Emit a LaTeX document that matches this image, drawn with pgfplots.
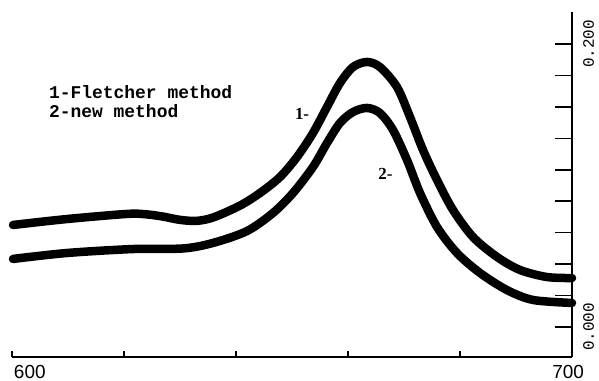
\documentclass[border=0pt]{standalone}
\usepackage{fontspec}
\setmainfont{Liberation Sans}
\newfontfamily\monof{Liberation Mono}
\newfontfamily\seriff{Liberation Serif}
\usepackage{pgfplots}
\pgfplotsset{compat=1.18}
\usetikzlibrary{calc}

\pgfplotstableread{
x y
600.18 0.0721
609.82 0.0763
620.54 0.0799
624.00 0.0796
627.00 0.0780
630.00 0.0757
633.00 0.0750
636.00 0.0775
640.71 0.0858
644.29 0.0947
647.86 0.1060
650.89 0.1201
653.75 0.1371
656.25 0.1555
658.57 0.1724
660.89 0.1837
663.39 0.1873
665.71 0.1837
668.75 0.1696
671.07 0.1484
673.39 0.1251
675.89 0.1039
678.75 0.0827
682.32 0.0636
686.61 0.0495
690.71 0.0403
695.54 0.0353
700.00 0.0346
}\curveone

\pgfplotstableread{
x y
600.18 0.0481
609.82 0.0523
621.61 0.0551
630.54 0.0555
635.89 0.0594
641.96 0.0678
646.61 0.0806
650.18 0.0947
653.75 0.1131
656.25 0.1300
658.57 0.1442
660.89 0.1519
663.39 0.1548
665.71 0.1512
668.04 0.1392
670.54 0.1180
672.86 0.0947
675.89 0.0707
679.46 0.0523
683.57 0.0382
688.39 0.0261
693.04 0.0191
700.00 0.0170
}\curvetwo

\begin{document}
\begin{tikzpicture}
\begin{axis}[
  scale only axis, width=560bp, height=345bp,
  xmin=600, xmax=700, ymin=-0.0212, ymax=0.2226,
  axis x line*=bottom, axis y line=none,
  axis line style={-, line width=1.8bp},
  xtick={600,620,640,660,680,700},
  xticklabels={{\makebox[0pt][l]{\hspace{2bp}600}},,,,,{\makebox[0pt][r]{700\hspace{-12bp}}}},
  tick align=inside, major tick length=6bp,
  tick style={line width=1.6bp, black},
  xticklabel style={font=\fontsize{19}{19}\selectfont, inner sep=0pt, yshift=-8bp},
  clip=false,
]
\addplot[black, line width=8.5bp, line join=round, line cap=round, smooth, tension=0.5] table[x=x,y=y] {\curveone};
\addplot[black, line width=8.5bp, line join=round, line cap=round, smooth, tension=0.5] table[x=x,y=y] {\curvetwo};
\node[anchor=base west, inner sep=0pt, font=\monof\bfseries\fontsize{18}{20}\selectfont] at (axis cs:606.6,0.1618) {1-Fletcher method};
\node[anchor=base west, inner sep=0pt, font=\monof\bfseries\fontsize{18}{20}\selectfont] at (axis cs:606.6,0.1477) {2-new method};
\node[anchor=base west, inner sep=0pt, font=\seriff\bfseries\fontsize{17}{17}\selectfont] at (axis cs:650.5,0.1463) {1-};
\node[anchor=base west, inner sep=0pt, font=\seriff\bfseries\fontsize{17}{17}\selectfont] at (axis cs:665.4,0.1039) {2-};
\end{axis}
\begin{axis}[
  scale only axis, width=560bp, height=345bp,
  xmin=600, xmax=700, ymin=-0.0212, ymax=0.2226,
  axis y line*=right, axis x line=none,
  axis line style={-, line width=2.8bp},
  ytick={0,0.02222,0.04444,0.06667,0.08889,0.11111,0.13333,0.15556,0.17778,0.2},
  yticklabels={0.000,,,,,,,,,0.200},
  tick align=inside, major tick length=17bp,
  tick style={line width=1.6bp, black},
  yticklabel style={font=\monof\fontsize{16}{16}\selectfont, inner sep=0pt, xshift=11bp, anchor=north, rotate=90},
]
\addplot[draw=none] coordinates {(600,0) (700,0.2)};
\end{axis}
\pgfresetboundingbox
\path[use as bounding box] ($(current axis.south west)+(-12bp,-24bp)$) rectangle ($(current axis.north east)+(27bp,12bp)$);
\end{tikzpicture}
\end{document}
